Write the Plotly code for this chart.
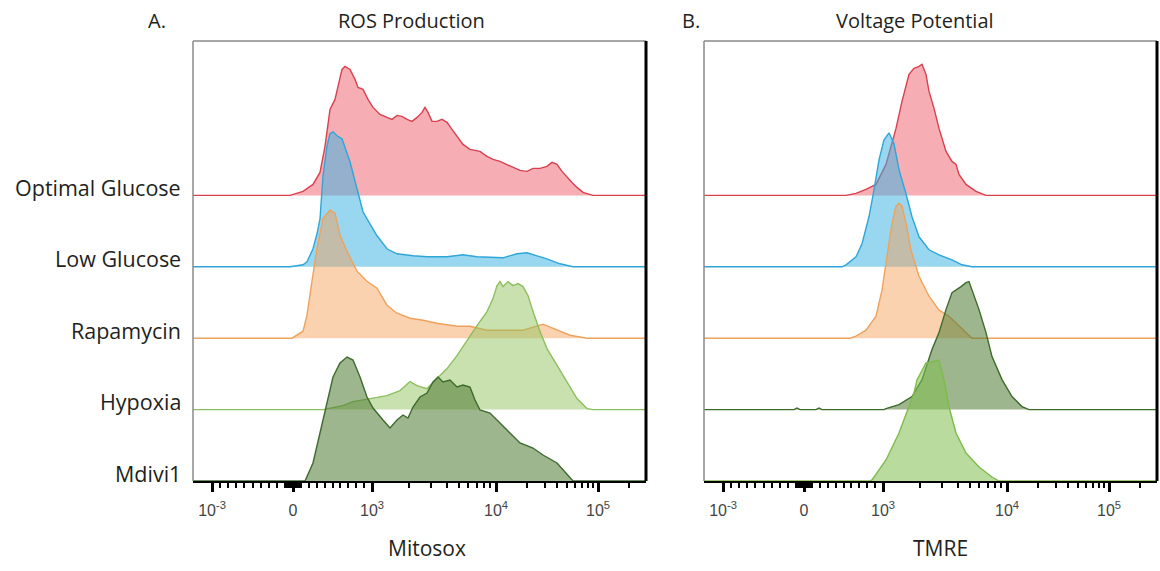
import numpy as np
import plotly.graph_objects as go

# ---------------- data ----------------
samples = ["Optimal Glucose", "Low Glucose", "Rapamycin", "Hypoxia", "Mdivi1"]
panel_titles = ["ROS Production", "Voltage Potential"]
panel_letters = ["A.", "B."]
axis_titles = ["Mitosox", "TMRE"]

# display-channel positions (x) and histogram heights (h), panel A (Mitosox)
ros_optimal_x = [97, 110, 120, 127, 132, 137, 142, 145, 149, 152, 157, 162, 165, 170, 175, 180, 187, 194, 199, 204, 209, 214, 219, 224, 229, 232, 235, 239, 244, 249, 254, 259, 264, 270, 277, 287, 294, 300, 307, 314, 320, 327, 334, 340, 347, 354, 359, 364, 369, 374, 379, 384, 390, 400]
ros_optimal_h = [0, 4, 11, 23, 49, 86, 96, 109, 126, 129, 126, 116, 108, 106, 96, 88, 81, 78, 76, 80, 79, 76, 74, 78, 83, 88, 83, 74, 74, 76, 73, 66, 59, 51, 46, 44, 39, 36, 34, 31, 28, 25, 24, 27, 27, 29, 33, 31, 24, 18, 13, 8, 3, 0]
ros_low_x = [97, 110, 114, 120, 124, 127, 130, 134, 137, 140, 144, 149, 157, 164, 170, 174, 180, 184, 194, 204, 220, 234, 254, 270, 284, 310, 324, 334, 344, 354, 367, 380]
ros_low_h = [0, 2, 5, 18, 33, 48, 91, 121, 133, 135, 131, 128, 105, 78, 55, 48, 38, 31, 18, 13, 11, 10, 10, 12, 10, 9, 13, 14, 11, 8, 3, 0]
ros_rapa_x = [99, 110, 114, 119, 124, 130, 137, 142, 147, 154, 164, 174, 184, 194, 204, 217, 230, 244, 264, 277, 294, 310, 330, 350, 364, 377, 394]
ros_rapa_h = [0, 7, 23, 57, 90, 120, 128, 125, 103, 87, 67, 57, 50, 33, 25, 20, 18, 15, 12, 12, 8, 8, 8, 14, 8, 3, 0]
ros_hypoxia_x = [130, 150, 160, 177, 194, 207, 217, 224, 234, 244, 254, 264, 277, 284, 294, 300, 304, 307, 310, 315, 320, 325, 330, 335, 340, 347, 354, 364, 374, 384, 394, 400]
ros_hypoxia_h = [0, 4, 8, 11, 14, 19, 28, 24, 21, 31, 41, 54, 74, 84, 98, 111, 124, 128, 123, 128, 124, 126, 123, 114, 98, 78, 61, 44, 28, 11, 1, 0]
ros_mdivi_x = [112, 120, 127, 134, 140, 147, 154, 160, 167, 174, 180, 190, 197, 204, 210, 215, 220, 227, 234, 240, 245, 250, 257, 264, 270, 277, 282, 287, 297, 307, 317, 327, 340, 350, 364, 377, 380]
ros_mdivi_h = [0, 18, 48, 81, 104, 118, 124, 121, 104, 84, 73, 61, 53, 61, 66, 63, 74, 84, 88, 99, 104, 99, 101, 94, 96, 94, 81, 71, 68, 58, 48, 38, 33, 26, 18, 4, 0]

# panel B (TMRE)
tmre_optimal_x = [142, 152, 162, 172, 182, 192, 198, 205, 210, 215, 218, 222, 225, 230, 235, 242, 248, 252, 255, 262, 272, 282]
tmre_optimal_h = [0, 2, 6, 11, 31, 67, 94, 121, 127, 129, 131, 121, 104, 87, 67, 44, 34, 31, 21, 11, 4, 0]
tmre_low_x = [138, 142, 152, 158, 165, 170, 175, 180, 185, 190, 195, 202, 208, 215, 225, 235, 248, 258, 268]
tmre_low_h = [0, 2, 10, 23, 50, 77, 107, 127, 134, 123, 97, 73, 50, 30, 17, 12, 7, 2, 0]
tmre_rapa_x = [146, 152, 162, 172, 178, 183, 188, 192, 195, 198, 202, 207, 215, 225, 235, 245, 255, 265, 268]
tmre_rapa_h = [0, 2, 8, 22, 48, 82, 115, 132, 135, 132, 115, 88, 62, 42, 28, 22, 12, 2, 0]
tmre_hypoxia_x = [90, 93, 96, 112, 115, 118, 180, 182, 195, 208, 218, 228, 235, 242, 248, 257, 262, 265, 268, 275, 282, 288, 298, 308, 318, 325]
tmre_hypoxia_h = [0, 1.5, 0, 0, 1.5, 0, 0, 1, 5, 13, 30, 60, 77, 100, 117, 123, 127, 128, 120, 100, 77, 53, 30, 13, 3, 0]
tmre_mdivi_x = [166, 168, 182, 195, 205, 210, 213, 222, 228, 235, 240, 245, 252, 262, 275, 288, 295]
tmre_mdivi_h = [0, 1, 21, 48, 74, 88, 101, 118, 119, 121, 101, 74, 48, 28, 14, 4, 0]

major_tick_values = [-1000, 0, 1000, 10000, 100000]
major_tick_labels = ["10<sup>-3</sup>", "0", "10<sup>3</sup>", "10<sup>4</sup>", "10<sup>5</sup>"]

# ---------------- scale ----------------
X_MAX = 453


def to_channel(v):
    """FlowJo-like biexponential display transform (value -> display channel)."""
    if v < 0:
        return 100 + 81 * v / 1000
    if v <= 1000:
        return 100 + 79 * v / 1000
    lg = np.log10(v)
    if lg <= 4:
        return 179 + 124 * (lg - 3)
    if lg <= 5:
        return 303 + 102 * (lg - 4)
    return 405 + 102 * (lg - 5)


minor_values = (list(range(-900, 0, 100)) + list(range(-90, 0, 10)) + list(range(10, 100, 10))
                + list(range(100, 1000, 100)) + list(range(2000, 10000, 1000))
                + list(range(20000, 100000, 10000)) + [200000])
minor_pos = [to_channel(v) for v in minor_values if to_channel(v) < X_MAX]
major_pos = [to_channel(v) for v in major_tick_values]

ROW_STEP = 71.4
offsets = [ROW_STEP * (len(samples) - 1 - i) for i in range(len(samples))]

panelA = [(ros_optimal_x, ros_optimal_h), (ros_low_x, ros_low_h), (ros_rapa_x, ros_rapa_h),
          (ros_hypoxia_x, ros_hypoxia_h), (ros_mdivi_x, ros_mdivi_h)]
panelB = [(tmre_optimal_x, tmre_optimal_h), (tmre_low_x, tmre_low_h), (tmre_rapa_x, tmre_rapa_h),
          (tmre_hypoxia_x, tmre_hypoxia_h), (tmre_mdivi_x, tmre_mdivi_h)]

# styles: (line colour, fill colour)
red = ("#d8404f", "rgba(238,100,112,0.52)")
blue = ("#2fa6d8", "rgba(60,178,228,0.52)")
orange = ("#efa25c", "rgba(245,155,80,0.45)")
lgreen = ("#8dbf5f", "rgba(145,196,95,0.5)")
lgreenB = ("#7dbb4c", "rgba(128,192,78,0.55)")
dgreen = ("#3d6a2d", "rgba(78,122,50,0.55)")
stylesA = [red, blue, orange, lgreen, dgreen]
stylesB = [red, blue, orange, dgreen, lgreenB]

fig = go.Figure()

W, H = 1160, 571
left_px = [193, 704]
plot_top, plot_bot = 41, 481
Y_MAX = plot_bot - plot_top

for p, (panel, styles) in enumerate([(panelA, stylesA), (panelB, stylesB)]):
    xa = "x" if p == 0 else "x2"
    ya = "y" if p == 0 else "y2"
    for i, ((xs, hs), (lc, fc)) in enumerate(zip(panel, styles)):
        off = offsets[i]
        x = [0] + list(xs) + [X_MAX]
        y = [off] + [off + h for h in hs] + [off]
        fig.add_trace(go.Scatter(x=x, y=y, mode="lines", fill="toself", fillcolor=fc,
                                 line=dict(color=lc, width=1.4), xaxis=xa, yaxis=ya,
                                 hoverinfo="skip", showlegend=False))

ydom = [1 - plot_bot / H, 1 - plot_top / H]
axis_common = dict(range=[0, X_MAX], tickmode="array", tickvals=major_pos, ticktext=major_tick_labels,
                   ticks="outside", ticklen=9, tickwidth=2.5, tickcolor="black",
                   showline=True, linecolor="black", linewidth=2, showgrid=False, zeroline=False,
                   ticklabelstandoff=5,
                   tickfont=dict(family="Liberation Sans, Arial", size=16, color="#444"),
                   minor=dict(tickmode="array", tickvals=minor_pos, ticks="outside", ticklen=5,
                              tickwidth=1.5, tickcolor="black", showgrid=False))
yaxis_common = dict(range=[0, Y_MAX], visible=False, domain=ydom, showgrid=False, zeroline=False)

fig.update_layout(
    width=W, height=H, margin=dict(l=0, r=0, t=0, b=0),
    paper_bgcolor="white", plot_bgcolor="white",
    xaxis=dict(domain=[left_px[0] / W, (left_px[0] + X_MAX) / W], anchor="y", **axis_common),
    xaxis2=dict(domain=[left_px[1] / W, min(1, (left_px[1] + X_MAX) / W)], anchor="y2", **axis_common),
    yaxis=dict(anchor="x", **yaxis_common),
    yaxis2=dict(anchor="x2", **yaxis_common),
)

shapes = []
for xr, yr in [("x domain", "y domain"), ("x2 domain", "y2 domain")]:
    shapes.append(dict(type="line", xref=xr, yref=yr, x0=0, x1=0, y0=0, y1=1, line=dict(color="#8a8a8a", width=1.5)))
    shapes.append(dict(type="line", xref=xr, yref=yr, x0=0, x1=1, y0=1, y1=1, line=dict(color="#8a8a8a", width=1.5)))
    shapes.append(dict(type="line", xref=xr, yref=yr, x0=1, x1=1, y0=0, y1=1, line=dict(color="black", width=3)))
fig.update_layout(shapes=shapes)

txtfont = "Open Sans, Noto Sans, sans-serif"
TXT = "#231f20"
ann = []
for i, name in enumerate(samples):
    ann.append(dict(text=name, xref="paper", yref="y", x=183 / W, y=offsets[i], xanchor="right",
                    yanchor="middle", yshift=8, showarrow=False,
                    font=dict(family=txtfont, size=21.5, color=TXT)))
title_cx = [411 / W, 915 / W]
letter_x = [157 / W, 691 / W]
axis_cx = [427 / W, 940 / W]
for p in range(2):
    ann.append(dict(text=panel_titles[p], xref="paper", yref="paper", x=title_cx[p], y=1 - 20 / H,
                    xanchor="center", yanchor="middle", showarrow=False,
                    font=dict(family=txtfont, size=20, color=TXT)))
    ann.append(dict(text=panel_letters[p], xref="paper", yref="paper", x=letter_x[p], y=1 - 20 / H,
                    xanchor="center", yanchor="middle", showarrow=False,
                    font=dict(family=txtfont, size=20, color=TXT)))
    ann.append(dict(text=axis_titles[p], xref="paper", yref="paper", x=axis_cx[p], y=1 - 548 / H,
                    xanchor="center", yanchor="middle", showarrow=False,
                    font=dict(family=txtfont, size=21, color=TXT)))
fig.update_layout(annotations=ann)

# remove the browser's default 8px body margin so the figure fills the window exactly
fig.write_html("out.html", config={"displayModeBar": False},
               post_script="document.body.style.margin='0';document.body.style.overflow='hidden';")
